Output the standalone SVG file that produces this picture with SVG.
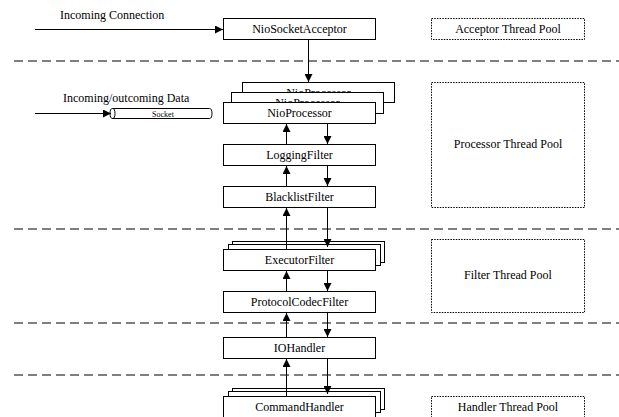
<svg xmlns="http://www.w3.org/2000/svg" width="619" height="417" viewBox="0 0 619 417">
<style>
text{font-family:"Liberation Serif","DejaVu Serif",serif;font-size:12px;fill:#000}
.c{text-anchor:middle}
.box{fill:#fff;stroke:#000;stroke-width:1}
.pool{fill:#fff;stroke:#000;stroke-width:1;stroke-dasharray:1.5 1.2}
.sep{stroke:#000;stroke-width:1.2;stroke-dasharray:9 5;fill:none}
.ln{stroke:#000;stroke-width:1;fill:none}
</style>
<defs>
<marker id="ah" viewBox="0 0 10 10" refX="10" refY="5" markerWidth="8" markerHeight="8" markerUnits="userSpaceOnUse" orient="auto">
<path d="M0,0 L10,5 L0,10 z" fill="#000"/>
</marker>
</defs>
<rect width="619" height="417" fill="#fff"/>
<g id="separators">
<line class="sep" x1="14" y1="61" x2="619" y2="61"/>
<line class="sep" x1="14" y1="229" x2="619" y2="229"/>
<line class="sep" x1="14" y1="323" x2="619" y2="323"/>
<line class="sep" x1="14" y1="375" x2="619" y2="375"/>
</g>
<g id="acceptor-pool"><rect class="pool" x="431.5" y="18.5" width="153" height="21"/><text class="c" x="508" y="33">Acceptor Thread Pool</text></g>
<g id="processor-pool"><rect class="pool" x="431.5" y="82.5" width="153" height="125"/><text class="c" x="508" y="148">Processor Thread Pool</text></g>
<g id="filter-pool"><rect class="pool" x="431.5" y="239.5" width="153" height="73"/><text class="c" x="508" y="279">Filter Thread Pool</text></g>
<g id="handler-pool"><rect class="pool" x="431.5" y="396.5" width="153" height="21"/><text class="c" x="508" y="411">Handler Thread Pool</text></g>
<g id="NioSocketAcceptor"><rect class="box" x="223.5" y="18.5" width="152" height="21"/><text class="c" x="299.5" y="33">NioSocketAcceptor</text></g>
<g id="NioProcessor">
<rect class="box" x="242.5" y="82.5" width="152" height="20"/><text class="c" x="318.5" y="97">NioProcessor</text>
<rect class="box" x="231.5" y="92.5" width="152" height="21"/><text class="c" x="307.5" y="107">NioProcessor</text>
<rect class="box" x="223.5" y="102.5" width="152" height="21"/><text class="c" x="299.5" y="117">NioProcessor</text>
</g>
<g id="Socket">
<path class="box" d="M112.5,108.5 H209.5 A2.5,5 0 0 1 209.5,118.5 H112.5 A2.5,5 0 0 1 112.5,108.5 Z"/>
<path class="ln" d="M112.5,108.5 A2.5,5 0 0 1 112.5,118.5"/>
<text class="c" x="163" y="116.5" style="font-size:8px">Socket</text>
</g>
<g id="LoggingFilter"><rect class="box" x="223.5" y="144.5" width="152" height="21"/><text class="c" x="299.5" y="159">LoggingFilter</text></g>
<g id="BlacklistFilter"><rect class="box" x="223.5" y="186.5" width="152" height="21"/><text class="c" x="299.5" y="201">BlacklistFilter</text></g>
<g id="ExecutorFilter">
<rect class="box" x="232.5" y="241.5" width="152" height="21"/>
<rect class="box" x="228.5" y="244.5" width="152" height="21"/>
<rect class="box" x="223.5" y="249.5" width="152" height="21"/><text class="c" x="299.5" y="264">ExecutorFilter</text>
</g>
<g id="ProtocolCodecFilter"><rect class="box" x="223.5" y="291.5" width="152" height="21"/><text class="c" x="299.5" y="306">ProtocolCodecFilter</text></g>
<g id="IOHandler"><rect class="box" x="223.5" y="337.5" width="152" height="21"/><text class="c" x="299.5" y="352">IOHandler</text></g>
<g id="CommandHandler">
<rect class="box" x="232.5" y="388.5" width="152" height="21"/>
<rect class="box" x="228.5" y="391.5" width="152" height="21"/>
<rect class="box" x="223.5" y="396.5" width="152" height="21"/><text class="c" x="299.5" y="411">CommandHandler</text>
</g>
<g id="labels">
<text x="60" y="19">Incoming Connection</text>
<text x="63" y="102">Incoming/outcoming Data</text>
</g>
<g id="connectors">
<line class="ln" x1="35" y1="29.5" x2="223" y2="29.5" marker-end="url(#ah)"/>
<line class="ln" x1="35" y1="113.5" x2="111" y2="113.5" marker-end="url(#ah)"/>
<line class="ln" x1="308.5" y1="40" x2="308.5" y2="82" marker-end="url(#ah)"/>
<line class="ln" x1="286.5" y1="144" x2="286.5" y2="124" marker-end="url(#ah)"/>
<line class="ln" x1="327.5" y1="124" x2="327.5" y2="144" marker-end="url(#ah)"/>
<line class="ln" x1="286.5" y1="186" x2="286.5" y2="166" marker-end="url(#ah)"/>
<line class="ln" x1="327.5" y1="166" x2="327.5" y2="186" marker-end="url(#ah)"/>
<line class="ln" x1="286.5" y1="249" x2="286.5" y2="208" marker-end="url(#ah)"/>
<line class="ln" x1="327.5" y1="208" x2="327.5" y2="247" marker-end="url(#ah)"/>
<line class="ln" x1="286.5" y1="291" x2="286.5" y2="271" marker-end="url(#ah)"/>
<line class="ln" x1="327.5" y1="271" x2="327.5" y2="291" marker-end="url(#ah)"/>
<line class="ln" x1="286.5" y1="337" x2="286.5" y2="313" marker-end="url(#ah)"/>
<line class="ln" x1="327.5" y1="313" x2="327.5" y2="337" marker-end="url(#ah)"/>
<line class="ln" x1="286.5" y1="396" x2="286.5" y2="359" marker-end="url(#ah)"/>
<line class="ln" x1="327.5" y1="359" x2="327.5" y2="394" marker-end="url(#ah)"/>
</g>
</svg>
